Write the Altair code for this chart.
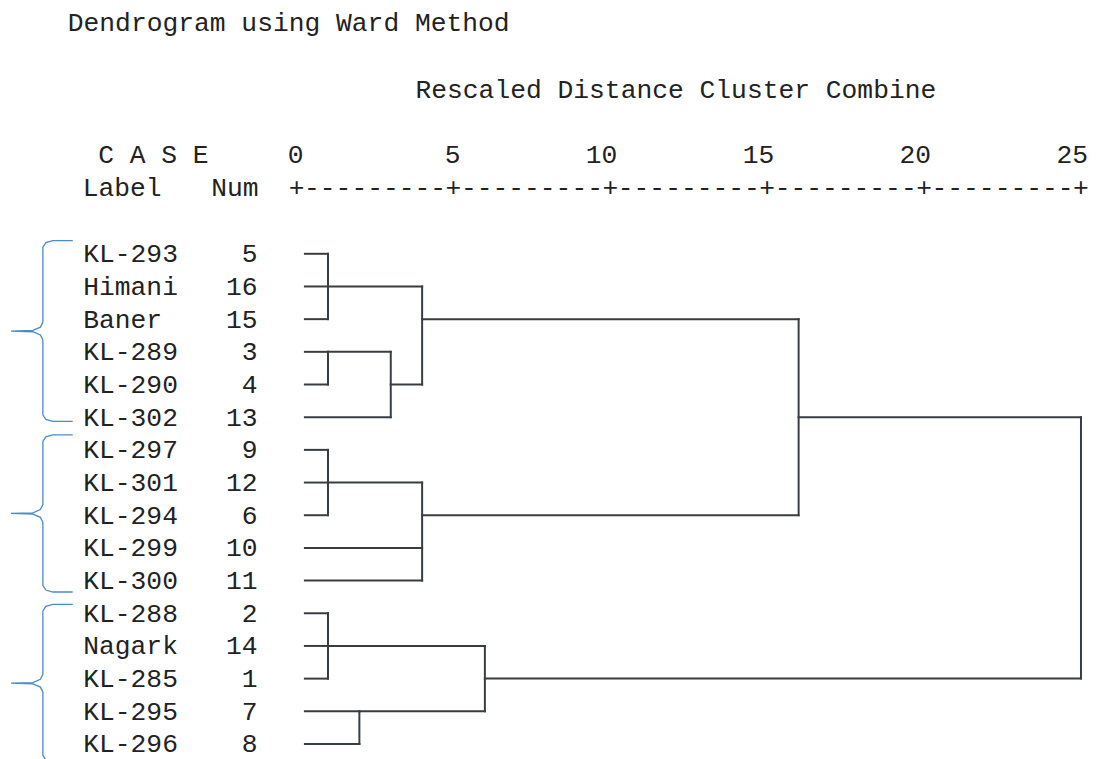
import altair as alt
import pandas as pd

# ---------------- data ----------------
leaf_labels = ["KL-293", "Himani", "Baner", "KL-289", "KL-290", "KL-302",
               "KL-297", "KL-301", "KL-294", "KL-299", "KL-300",
               "KL-288", "Nagark", "KL-285", "KL-295", "KL-296"]
case_nums = [5, 16, 15, 3, 4, 13, 9, 12, 6, 10, 11, 2, 14, 1, 7, 8]

# merges (children may be leaf labels or earlier merges "m<k>") and their rescaled distance
merge_children = [
    ["KL-293", "Himani", "Baner"],      # m0
    ["KL-289", "KL-290"],               # m1
    ["m1", "KL-302"],                   # m2
    ["m0", "m2"],                       # m3
    ["KL-297", "KL-301", "KL-294"],     # m4
    ["m4", "KL-299", "KL-300"],         # m5
    ["m3", "m5"],                       # m6
    ["KL-288", "Nagark", "KL-285"],     # m7
    ["KL-295", "KL-296"],               # m8
    ["m7", "m8"],                       # m9
    ["m6", "m9"],                       # m10
]
merge_heights = [1, 1, 3, 4, 1, 4, 16, 1, 2, 6, 25]

tick_values = [0, 5, 10, 15, 20, 25]
brace_first_row = [0, 6, 11]
brace_last_row = [5, 10, 15]

title_text = "Dendrogram using Ward Method"
axis_title_text = "Rescaled Distance Cluster Combine"

# ---------------- layout ----------------
MARGIN = 8
W, H = 1081, 743
PX0, PXU = 296.7, 31.49     # page x of distance 0, px per distance unit
PY0, PYU = 253.3, 32.8      # page y of first row, px per row
FONT = "Liberation Mono"
FS = 26.4
TXT = "#222222"
LINE = "#383d42"
BLUE = "#4a8bc9"

def dx_of(px):
    return (px - PX0) / PXU

def ry_of(py):
    return (py - PY0) / PYU

xdom = [dx_of(MARGIN), dx_of(MARGIN + W)]
ydom = [ry_of(MARGIN), ry_of(MARGIN + H)]
xs = alt.Scale(domain=xdom, nice=False, zero=False)
ys = alt.Scale(domain=ydom, reverse=True, nice=False, zero=False)

LEAF_START = dx_of(305)
LABEL_X = dx_of(82.5)
NUM_X = dx_of(257.5)

# ---------------- dendrogram segments ----------------
node_row = {lab: i for i, lab in enumerate(leaf_labels)}
node_x = {lab: LEAF_START for lab in leaf_labels}
segs = []
for k, (children, h) in enumerate(zip(merge_children, merge_heights)):
    rows = [node_row[c] for c in children]
    for c in children:
        segs.append(dict(x=node_x[c], x2=h, y=node_row[c], y2=node_row[c]))
    segs.append(dict(x=h, x2=h, y=min(rows), y2=max(rows)))
    nid = f"m{k}"
    node_row[nid] = (min(rows) + max(rows)) // 2
    node_x[nid] = h
seg_df = pd.DataFrame(segs)

dendro = alt.Chart(seg_df).mark_rule(color=LINE, strokeWidth=2, strokeCap="square").encode(
    x=alt.X("x:Q", scale=xs, axis=None),
    x2="x2:Q",
    y=alt.Y("y:Q", scale=ys, axis=None),
    y2="y2:Q",
)

# ---------------- row labels ----------------
rows_df = pd.DataFrame({
    "label": leaf_labels,
    "num": [str(n) for n in case_nums],
    "row": list(range(len(leaf_labels))),
    "lx": [LABEL_X] * len(leaf_labels),
    "nx": [NUM_X] * len(leaf_labels),
})
lab_text = alt.Chart(rows_df).mark_text(font=FONT, fontSize=FS, color=TXT, align="left",
                                        baseline="alphabetic", dy=8.5).encode(
    x=alt.X("lx:Q", scale=xs, axis=None), y=alt.Y("row:Q", scale=ys, axis=None), text="label:N")
num_text = alt.Chart(rows_df).mark_text(font=FONT, fontSize=FS, color=TXT, align="right",
                                        baseline="alphabetic", dy=8.5).encode(
    x=alt.X("nx:Q", scale=xs, axis=None), y=alt.Y("row:Q", scale=ys, axis=None), text="num:N")

# ---------------- scale header ----------------
tick_df = pd.DataFrame({"v": tick_values, "lab": [str(t) for t in tick_values]})
tick_labels = alt.Chart(tick_df).mark_text(font=FONT, fontSize=FS, color=TXT, align="right",
                                           baseline="alphabetic", dx=7).encode(
    x=alt.X("v:Q", scale=xs, axis=None), y=alt.value(162.3 - MARGIN), text="lab:N")
plus_marks = alt.Chart(tick_df).mark_text(font=FONT, fontSize=FS, color=TXT, align="center",
                                          baseline="alphabetic", text="+").encode(
    x=alt.X("v:Q", scale=xs, axis=None), y=alt.value(195.5 - MARGIN))
mid_df = pd.DataFrame({"v": [(a + b) / 2 for a, b in zip(tick_values[:-1], tick_values[1:])]})
dash_marks = alt.Chart(mid_df).mark_text(font=FONT, fontSize=FS, color=TXT, align="center",
                                         baseline="alphabetic", text="---------").encode(
    x=alt.X("v:Q", scale=xs, axis=None), y=alt.value(195.5 - MARGIN))

def header(txt, px, py, align="left"):
    return alt.Chart(pd.DataFrame({"t": [txt]})).mark_text(
        font=FONT, fontSize=FS, color=TXT, align=align, baseline="alphabetic").encode(
        x=alt.value(px - MARGIN), y=alt.value(py - MARGIN), text="t:N")

headers = [
    header(title_text, 67, 29.5),
    header(axis_title_text, 416, 97),
    header("C A S E", 97.5, 162.3),
    header("Label", 82, 195.5),
    header("Num", 258.5, 195.5, "right"),
]

# ---------------- braces ----------------
brace_pts = []
for g, (r0, r1) in enumerate(zip(brace_first_row, brace_last_row)):
    top = r0 - 0.40 + (0.0 if g == 0 else (-0.06 if g == 1 else 0.13))
    bot = r1 + (0.13 if g == 0 else (0.35 if g == 1 else 0.55))
    mid = (top + bot) / 2
    pts = [(72, top), (52, top), (45, top + 0.06), (42, top + 0.2),
           (42, mid - 0.27), (39.5, mid - 0.12), (32, mid - 0.02), (10, mid),
           (32, mid + 0.02), (39.5, mid + 0.12), (42, mid + 0.27),
           (42, bot - 0.2), (45, bot - 0.06), (52, bot), (72, bot)]
    for i, (px, ry) in enumerate(pts):
        brace_pts.append(dict(g=g, o=i, x=dx_of(px), y=ry))
brace_df = pd.DataFrame(brace_pts)
braces = alt.Chart(brace_df).mark_line(color=BLUE, strokeWidth=1.3).encode(
    x=alt.X("x:Q", scale=xs, axis=None), y=alt.Y("y:Q", scale=ys, axis=None),
    order="o:Q", detail="g:N")

chart = alt.layer(
    braces, dendro, lab_text, num_text, tick_labels, plus_marks, dash_marks, *headers
).properties(width=W, height=H, padding=0, background="white").configure_view(stroke=None)

chart.save("out.html", embed_options={"renderer": "svg", "actions": False})
